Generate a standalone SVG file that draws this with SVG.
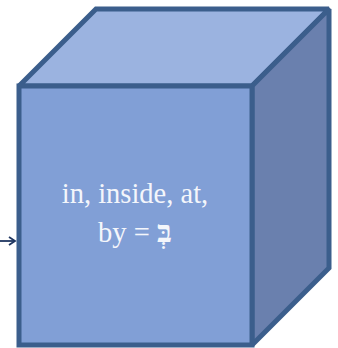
<svg xmlns="http://www.w3.org/2000/svg" width="338" height="348" viewBox="0 0 338 348">
<defs>
<style>
.edge{stroke:#3b5e8c;stroke-width:5;stroke-linejoin:miter;stroke-miterlimit:2}
.lbl{font-family:"Liberation Serif","Times New Roman","DejaVu Serif",serif;font-size:28.5px;fill:#f4f6fb;text-anchor:middle}
</style>
<marker id="ah" markerWidth="10" markerHeight="10" refX="8" refY="5" orient="auto" markerUnits="userSpaceOnUse">
<path d="M2,1 L8,5 L2,9" fill="none" stroke="#1f3660" stroke-width="1.8"/>
</marker>
</defs>
<g id="connectors">
<line x1="0" y1="241" x2="15" y2="241" stroke="#1f3660" stroke-width="1.8" marker-end="url(#ah)"/>
</g>
<g id="cube">
<polygon class="edge" points="19,86 96,9 329,9 252,86" fill="#9bb3e0"/>
<polygon class="edge" points="252,86 329,9 329,268 252,345" fill="#6a80ae"/>
<rect class="edge" x="19" y="86" width="233" height="259" fill="#819fd6"/>
<text class="lbl" x="135" y="203">in, inside, at,</text>
<text class="lbl" x="135" y="242">by = <tspan font-size="31" font-weight="bold">בְּ</tspan></text>
</g>
</svg>
